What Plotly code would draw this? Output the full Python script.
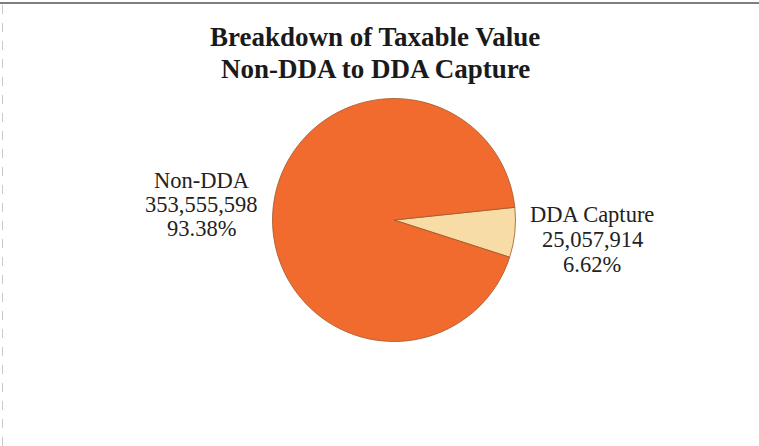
import plotly.graph_objects as go

categories = ["DDA Capture", "Non-DDA"]
values = [25057914, 353555598]
percents = ["6.62%", "93.38%"]
colors = ["#F7DCA5", "#F26B2E"]
title_lines = ["Breakdown of Taxable Value", "Non-DDA to DDA Capture"]

W, H = 759, 446
cx, cy, r = 394, 220, 121.5

fig = go.Figure(go.Pie(
    labels=categories,
    values=values,
    sort=False,
    direction="clockwise",
    rotation=84,
    textinfo="none",
    hoverinfo="label+value+percent",
    marker=dict(colors=colors, line=dict(color="#a0582a", width=0.8)),
    domain=dict(x=[(cx - r) / W, (cx + r) / W],
                y=[(H - cy - r) / H, (H - cy + r) / H]),
    showlegend=False,
))

serif = "Liberation Serif, Times New Roman, serif"
lab_font = dict(family=serif, size=22.5, color="#222222")

def add_line(text, x, y, font):
    fig.add_annotation(x=x / W, y=1 - y / H, xref="paper", yref="paper",
                       text=text, showarrow=False, font=font,
                       xanchor="center", yanchor="middle", align="center")

# label blocks: (category index, centre x, line centres)
label_pos = {1: (202, [181, 204.5, 228]), 0: (592, [214.5, 239, 264])}
for i, (lx, ys) in label_pos.items():
    lines = [categories[i], f"{values[i]:,}", percents[i]]
    for t, y in zip(lines, ys):
        add_line(t, lx, y, lab_font)

title_font = dict(family=serif, size=27, color="#1a1a1a")
for t, y in zip(title_lines, [37.5, 68.5]):
    add_line(f"<b>{t}</b>", 375, y, title_font)

# scan frame lines
fig.add_shape(type="line", xref="paper", yref="paper", x0=0, x1=1, y0=1 - 3 / H, y1=1 - 3 / H,
              line=dict(color="#555555", width=1.5))
fig.add_shape(type="line", xref="paper", yref="paper", x0=2.5 / W, x1=2.5 / W, y0=0, y1=1 - 4 / H,
              line=dict(color="#c8c8c8", width=1, dash="dash"))

fig.update_layout(width=W, height=H, margin=dict(l=0, r=0, t=0, b=0),
                  paper_bgcolor="white", plot_bgcolor="white")

fig.write_html("out.html", config={"displayModeBar": False},
               post_script="document.body.style.margin='0';document.body.style.overflow='hidden';")
